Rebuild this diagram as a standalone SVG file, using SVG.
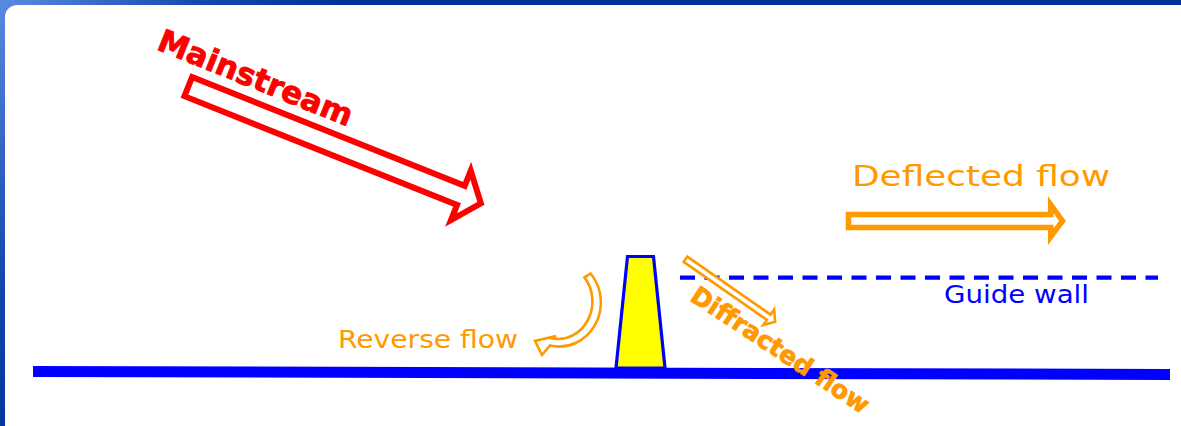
<svg xmlns="http://www.w3.org/2000/svg" width="1181" height="426" viewBox="0 0 1181 426">
  <defs>
    <linearGradient id="bg" gradientUnits="userSpaceOnUse" x1="0" y1="0" x2="220" y2="160">
      <stop offset="0" stop-color="#5a8ae0"/>
      <stop offset="0.6" stop-color="#1846b0"/>
      <stop offset="1" stop-color="#003399"/>
    </linearGradient>
  </defs>
  <style>
    .orange-text { font-family: "DejaVu Sans", Verdana, sans-serif; fill: #FF9900; }
    .blue-text { font-family: "DejaVu Sans", Verdana, sans-serif; fill: #0000FF; }
    .bold { font-weight: bold; }
    .hollow-red { fill: #FFFFFF; stroke: #FF0000; stroke-width: 6; stroke-linejoin: miter; }
    .hollow-orange { fill: #FFFFFF; stroke: #FF9900; stroke-linejoin: miter; }
  </style>

  <!-- frame -->
  <rect x="0" y="0" width="1181" height="426" fill="url(#bg)"/>
  <rect x="5" y="5" width="1200" height="440" rx="12" ry="12" fill="#FFFFFF"/>

  <!-- ground -->
  <g id="ground">
    <polygon points="33,366 1170,369 1170,380 33,377" fill="#0000FF"/>
  </g>

  <!-- obstacle -->
  <g id="obstacle">
    <polygon points="627.5,256.5 653.5,256.5 665,368 616,368" fill="#FFFF00" stroke="#0000FF" stroke-width="3.2" stroke-linejoin="miter"/>
  </g>

  <!-- guide wall -->
  <g id="guide-wall">
    <line x1="680" y1="277.7" x2="1158" y2="277.7" stroke="#0000FF" stroke-width="4.2" stroke-dasharray="15 9.5"/>
    <text class="blue-text" x="944" y="303" font-size="24" textLength="145" lengthAdjust="spacingAndGlyphs">Guide wall</text>
  </g>

  <!-- connectors (flow arrows) -->
  <g id="connectors">
    <g id="mainstream-arrow" transform="translate(185.5,85.5) rotate(21.75)">
      <path class="hollow-red" d="M3,-10.3 L296.5,-10.3 L296.5,-26.6 L318,0 L296.5,26.6 L296.5,10.3 L3,10.3 Z"/>
    </g>
    <g id="deflected-arrow">
      <path class="hollow-orange" stroke-width="5.5" d="M848.5,214.5 L1050.75,214.5 L1050.75,204.75 L1062.5,221 L1050.75,236.75 L1050.75,227.5 L848.5,227.5 Z"/>
    </g>
    <g id="diffracted-arrow" transform="translate(684.5,258.5) rotate(34.9)">
      <path class="hollow-orange" stroke-width="2.6" d="M1.2,-3.2 L102.7,-3.2 L102.7,-9.4 L110.5,0 L102.7,9.4 L102.7,3.2 L1.2,3.2 Z"/>
    </g>
    <g id="reverse-arrow">
      <path class="hollow-orange" stroke-width="2.6" d="M590.5,273.5 A41.8,44 0 0 1 550,345.5 L542,355 L535,341 L556,336 L552.6,338.4 A34,37.5 0 0 0 584.5,277.4 Z"/>
    </g>
  </g>

  <!-- labels -->
  <g id="mainstream-label">
    <text class="bold" transform="translate(155.5,49) rotate(22)" x="0" y="0" font-family="'DejaVu Sans', Verdana, sans-serif" font-size="31" fill="#FF0000" stroke="#FF0000" stroke-width="0.9">Mainstream</text>
  </g>
  <g id="deflected-label">
    <text class="orange-text" x="852" y="186" font-size="29" textLength="258" lengthAdjust="spacingAndGlyphs">Deflected flow</text>
  </g>
  <g id="reverse-label">
    <text class="orange-text" x="338" y="348" font-size="24" textLength="180" lengthAdjust="spacingAndGlyphs">Reverse flow</text>
  </g>
  <g id="diffracted-label">
    <text class="orange-text bold" transform="translate(688.8,299.7) rotate(33.5)" x="0" y="0" font-size="25" stroke="#FF9900" stroke-width="0.8">Diffracted flow</text>
  </g>
</svg>
